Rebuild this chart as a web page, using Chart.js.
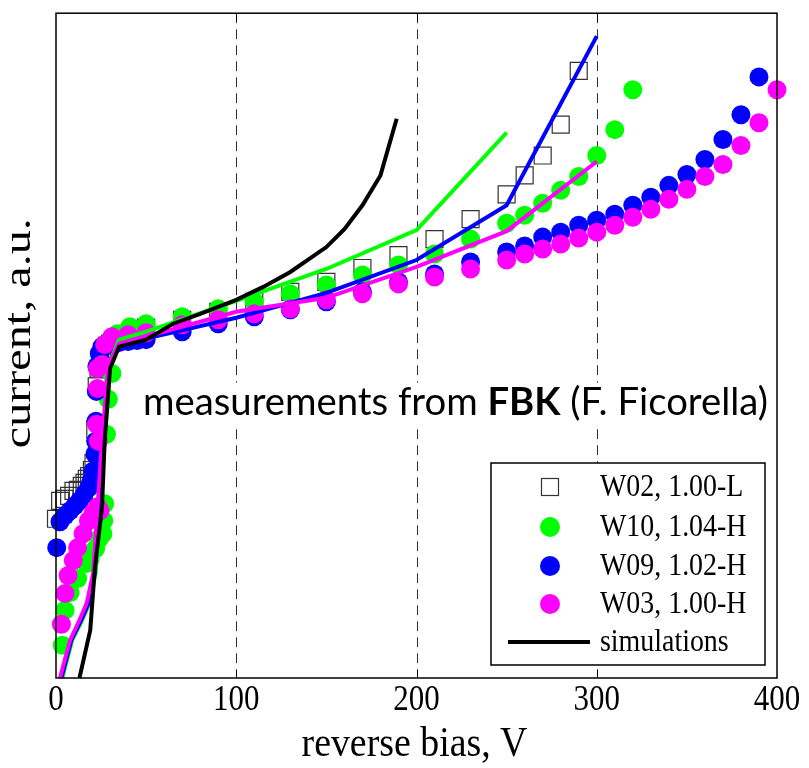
<!DOCTYPE html>
<html>
<head>
<meta charset="utf-8">
<script src="https://cdn.jsdelivr.net/npm/chart.js@4.4.1/dist/chart.umd.min.js"></script>
<style>
  html, body { margin: 0; padding: 0; background: #fff; }
  #wrap { width: 809px; height: 768px; }
</style>
</head>
<body>
<div id="wrap"><canvas id="myChart" width="809" height="768"></canvas></div>
<script>
// reverse bias (V) and current (a.u., linear in picture height)
const w02V = [0, 2.3, 4.7, 7.3, 9.7, 12.1, 14.3, 15.8, 17.1, 18.4, 19.9, 20.8, 21.8, 22.6, 23.6, 24.5, 25.5, 27, 28.5, 30, 50, 70, 90, 110, 130, 150, 170, 190, 210, 230, 250, 260, 270, 280, 290];
const w02I = [160, 178, 180, 183, 188, 189, 193, 196, 200, 203, 209, 216, 250, 293, 311, 322, 328, 331, 334, 336, 352, 360, 368, 378, 388, 398, 412, 425, 441, 461, 486, 505, 525, 556, 610];

const w10V = [3.5, 5, 7.8, 12, 17, 19, 22, 24, 26, 26.5, 27, 28, 29, 31, 34, 41, 50, 70, 90, 110, 130, 150, 170, 190, 210, 230, 250, 260, 270, 280, 290, 300, 310, 320];
const w10I = [33, 68, 86, 100, 115, 120, 130, 140, 145, 158, 175, 245, 280, 306, 346, 353, 356, 363, 371, 378, 386, 395, 405, 415, 426, 441, 457, 465, 477, 490, 504, 525, 551, 591];

const w09V = [0.4, 2.2, 5, 7.8, 10.5, 13, 15.5, 18, 19.5, 20.6, 21.6, 22, 22.2, 22.4, 22.7, 24, 25.5, 28, 30, 35, 40, 45, 50, 70, 90, 110, 130, 150, 170, 190, 210, 230, 250, 260, 270, 280, 290, 300, 310, 320, 330, 340, 350, 360, 370, 380, 390];
const w09I = [131, 157, 163, 168, 173, 178, 184, 191, 198, 208, 225, 238, 258, 288, 313, 326, 333, 335, 336, 337, 338, 339, 340, 348, 356, 363, 370, 378, 388, 398, 406, 418, 428, 434, 443, 448, 455, 460, 466, 475, 483, 495, 506, 521, 541, 566, 604];

const w03V = [3, 5, 6.7, 9.6, 12, 15, 18, 20.6, 23, 24.4, 23.5, 22.5, 23, 23, 25.5, 27, 31, 40, 50, 70, 90, 110, 130, 150, 170, 190, 210, 230, 250, 260, 270, 280, 290, 300, 310, 320, 330, 340, 350, 360, 370, 380, 390, 400];
const w03I = [54, 85, 103, 118, 131, 145, 158, 166, 172, 168, 238, 255, 291, 311, 315, 335, 343, 345, 347, 355, 360, 366, 371, 380, 386, 396, 403, 411, 420, 426, 431, 436, 442, 448, 455, 463, 471, 481, 491, 504, 516, 535, 558, 591];

// simulations
const simBlackV = [13, 19, 21.6, 25.5, 27, 30, 35, 50, 65, 80, 100, 115, 130, 150, 160, 170, 180, 189];
const simBlackI = [0, 48, 111, 171, 238, 311, 333, 340, 356, 366, 380, 393, 408, 433, 451, 475, 505, 562];
const simGreenV = [3.5, 9, 14.5, 18.5, 22, 24.5, 27, 30, 35, 50, 100, 150, 200, 250];
const simGreenI = [0, 38, 58, 75, 105, 171, 238, 318, 340, 348, 379, 411, 450, 548];
const simBlueV = [3, 8.5, 14, 18, 21.5, 24, 26.5, 29.5, 35, 50, 100, 150, 200, 250, 300];
const simBlueI = [0, 38, 58, 75, 105, 171, 238, 315, 334, 341, 362, 387, 420, 475, 645];
const simMagV = [2.2, 7.8, 13, 17, 20.6, 23, 25.5, 29, 35, 50, 100, 150, 200, 250, 300];
const simMagI = [0, 38, 58, 75, 105, 171, 238, 315, 336, 343, 368, 382, 413, 449, 519];

const xTicks = [0, 100, 200, 300, 400];
const gridValues = [100, 200, 300];
const legendLabels = ['W02, 1.00-L', 'W10, 1.04-H', 'W09, 1.02-H', 'W03, 1.00-H', 'simulations'];
const xTitle = 'reverse bias, V';
const yTitle = 'current, a.u.';

const serif = "'Liberation Serif', 'Times New Roman', serif";

function pts(xs, ys) {
  return xs.map((v, i) => ({ x: v, y: ys[i] }));
}

function markerSet(label, xs, ys, color, order) {
  return {
    label: label, data: pts(xs, ys), order: order, clip: false,
    pointStyle: 'circle', pointRadius: 9.5, pointHoverRadius: 9.5,
    backgroundColor: color, borderColor: color, borderWidth: 0, showLine: false
  };
}

function simSet(label, xs, ys, color, order) {
  return {
    label: label, data: pts(xs, ys), order: order, showLine: true,
    borderColor: color, backgroundColor: color, borderWidth: 4,
    pointRadius: 0, pointHoverRadius: 0, tension: 0, clip: 2
  };
}

// text squeezed horizontally like the original picture
function squeezed(ctx, text, x, y, size, kx, ky) {
  ctx.save();
  ctx.translate(x, y);
  ctx.scale(kx, ky);
  ctx.font = size + 'px ' + serif;
  ctx.fillText(text, 0, 0);
  ctx.restore();
}

const overlay = {
  id: 'overlay',
  beforeDatasetsDraw(chart) {
    const ctx = chart.ctx;
    const a = chart.chartArea;
    const x = chart.scales.x;
    ctx.save();
    ctx.strokeStyle = '#333';
    ctx.lineWidth = 1;
    ctx.setLineDash([10, 6]);
    gridValues.forEach(v => {
      const px = Math.round(x.getPixelForValue(v)) + 0.5;
      ctx.beginPath();
      ctx.moveTo(px, a.top);
      ctx.lineTo(px, a.bottom);
      ctx.stroke();
    });
    ctx.setLineDash([]);

    // annotation text
    const parts = [['measurements from ', 'normal'], ['FBK', 'bold'], [' (F. Ficorella)', 'normal']];
    const fam = "Lato, 'Noto Sans', sans-serif";
    let w100 = 0;
    parts.forEach(p => { ctx.font = p[1] + ' 100px ' + fam; w100 += ctx.measureText(p[0]).width; });
    const size = 100 * 625 / w100;
    let tx = a.left + 87;
    const ty = a.top + 402;
    ctx.fillStyle = '#fff';
    ctx.fillRect(tx - 4, ty - size * 0.85, 633, size * 1.15);
    ctx.fillStyle = '#000';
    ctx.textBaseline = 'alphabetic';
    ctx.textAlign = 'left';
    parts.forEach(p => {
      ctx.font = p[1] + ' ' + size + 'px ' + fam;
      ctx.fillText(p[0], tx, ty);
      tx += ctx.measureText(p[0]).width;
    });
    ctx.restore();
  },
  afterDatasetsDraw(chart) {
    const ctx = chart.ctx;
    const a = chart.chartArea;
    const x = chart.scales.x;
    const sets = chart.data.datasets;
    ctx.save();

    // legend box
    const L = a.right - 286, T = a.bottom - 215, W = 274, H = 202;
    ctx.fillStyle = '#fff';
    ctx.fillRect(L, T, W, H);
    ctx.strokeStyle = '#000';
    ctx.lineWidth = 1.5;
    ctx.strokeRect(L, T, W, H);
    const rows = [24, 64, 103, 141, 179];
    const mx = L + 59;
    ctx.textBaseline = 'middle';
    ctx.textAlign = 'left';
    rows.forEach((r, i) => {
      const cy = T + r;
      if (i === 0) {
        ctx.strokeStyle = '#333';
        ctx.lineWidth = 1.2;
        ctx.strokeRect(mx - 8.5, cy - 8.5, 17, 17);
      } else if (i < 4) {
        ctx.fillStyle = sets[i].backgroundColor;
        ctx.beginPath();
        ctx.arc(mx, cy, 10, 0, Math.PI * 2);
        ctx.fill();
      } else {
        ctx.strokeStyle = '#000';
        ctx.lineWidth = 4;
        ctx.beginPath();
        ctx.moveTo(L + 17, cy);
        ctx.lineTo(L + 99, cy);
        ctx.stroke();
      }
      ctx.fillStyle = '#000';
      squeezed(ctx, legendLabels[i], L + 109, cy + 1, 31, 0.9, 1);
    });

    // small inner ticks
    ctx.strokeStyle = '#000';
    ctx.lineWidth = 1;
    gridValues.forEach(v => {
      const px = Math.round(x.getPixelForValue(v)) + 0.5;
      ctx.beginPath();
      ctx.moveTo(px, a.bottom); ctx.lineTo(px, a.bottom - 8);
      ctx.moveTo(px, a.top); ctx.lineTo(px, a.top + 8);
      ctx.stroke();
    });

    // frame
    ctx.strokeStyle = '#000';
    ctx.lineWidth = 1.5;
    ctx.strokeRect(a.left, a.top, a.right - a.left, a.bottom - a.top);

    // tick labels and axis titles
    ctx.fillStyle = '#000';
    ctx.textAlign = 'center';
    ctx.textBaseline = 'middle';
    xTicks.forEach(v => {
      squeezed(ctx, String(v), x.getPixelForValue(v), a.bottom + 23, 36, 0.86, 1);
    });
    squeezed(ctx, xTitle, (a.left + a.right) / 2 - 2, a.bottom + 67, 43, 0.88, 1);

    ctx.save();
    ctx.translate(20, a.top + 320);
    ctx.rotate(-Math.PI / 2);
    ctx.font = '46px ' + serif;
    const tw = ctx.measureText(yTitle).width;
    ctx.scale(230 / tw, 0.82);
    ctx.fillText(yTitle, 0, 0);
    ctx.restore();

    ctx.restore();
  }
};

const ctx = document.getElementById('myChart');

new Chart(ctx, {
  type: 'scatter',
  data: {
    datasets: [
      {
        label: legendLabels[0], data: pts(w02V, w02I), order: 8, clip: false,
        pointStyle: 'rect', pointRadius: 12, pointHoverRadius: 12,
        backgroundColor: 'rgba(0,0,0,0)', borderColor: '#333', borderWidth: 1.2, showLine: false
      },
      markerSet(legendLabels[1], w10V, w10I, '#00ff00', 7),
      markerSet(legendLabels[2], w09V, w09I, '#0000ff', 6),
      markerSet(legendLabels[3], w03V, w03I, '#ff00ff', 5),
      simSet('sim W10', simGreenV, simGreenI, '#00ff00', 4),
      simSet('sim W09', simBlueV, simBlueI, '#0000ff', 3),
      simSet('sim W03', simMagV, simMagI, '#ff00ff', 2),
      simSet(legendLabels[4], simBlackV, simBlackI, '#000000', 1)
    ]
  },
  options: {
    responsive: false,
    animation: false,
    layout: { padding: { top: 10, right: 32, left: 0, bottom: 0 } },
    plugins: {
      legend: { display: false },
      tooltip: { enabled: false }
    },
    scales: {
      x: {
        type: 'linear', min: 0, max: 400,
        afterFit: s => { s.height = 90; },
        afterBuildTicks: s => { s.ticks = xTicks.map(v => ({ value: v })); },
        grid: { display: false },
        border: { display: false },
        ticks: { display: false }
      },
      y: {
        type: 'linear', min: 0, max: 668,
        afterFit: s => { s.width = 56; },
        grid: { display: false },
        border: { display: false },
        ticks: { display: false }
      }
    }
  },
  plugins: [overlay]
});
</script>
</body>
</html>
